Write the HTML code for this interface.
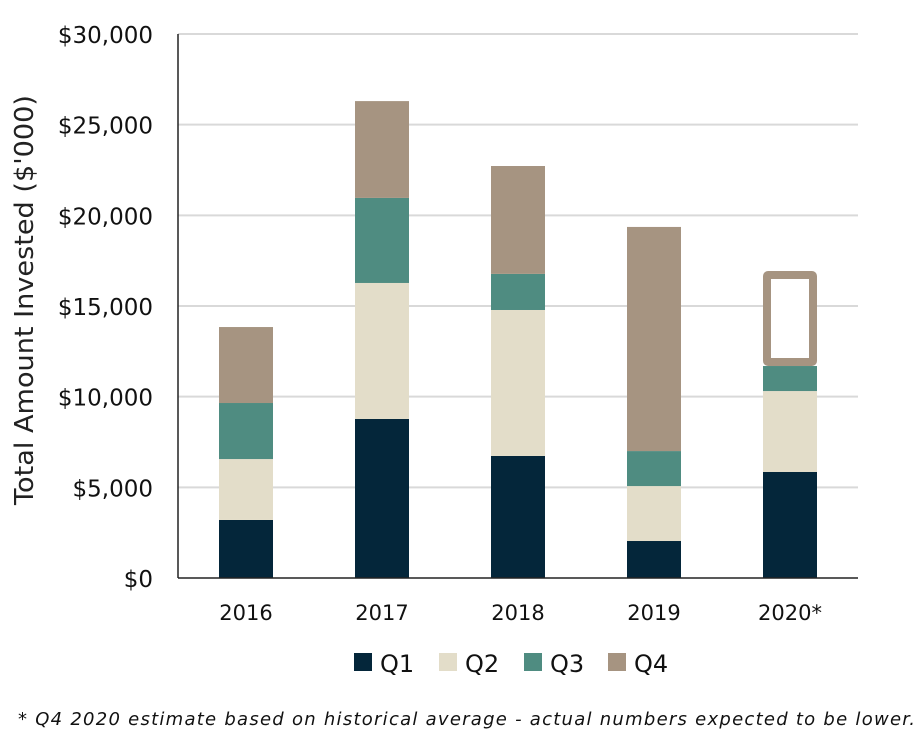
<!DOCTYPE html>
<html><head><meta charset="utf-8"><style>
body{margin:0;background:#fff;}
svg text{font-family:"DejaVu Sans","Liberation Sans",sans-serif;}
</style></head><body>
<svg id="chart" width="924" height="743" viewBox="0 0 924 743" xmlns="http://www.w3.org/2000/svg">
<g id="grid"></g><g id="bars"></g><g id="axes"></g>
<text transform="translate(33,300) rotate(-90)" text-anchor="middle" font-size="26" fill="#222" textLength="410" lengthAdjust="spacingAndGlyphs">Total Amount Invested ($'000)</text>
<g font-size="24" fill="#111">
<rect x="354" y="653" width="18" height="18" fill="#04263a"/>
<text x="380" y="672">Q1</text>
<rect x="439" y="653" width="18" height="18" fill="#e3ddc9"/>
<text x="465" y="672">Q2</text>
<rect x="524" y="653" width="18" height="18" fill="#4f8c81"/>
<text x="550" y="672">Q3</text>
<rect x="608" y="653" width="18" height="18" fill="#a69481"/>
<text x="634" y="672">Q4</text>
</g>
<text x="18" y="725" font-size="18" font-style="italic" fill="#111" textLength="897" lengthAdjust="spacing">* Q4 2020 estimate based on historical average - actual numbers expected to be lower.</text>
</svg>
<script>
const categories=["2016","2017","2018","2019","2020*"];
const q1=[3200,8770,6730,2040,5850];
const q2=[3360,7500,8050,3030,4460];
const q3=[3090,4690,1990,1930,1380];
const q4=[4190,5340,5950,12360,5240];
const yTicks=[0,5000,10000,15000,20000,25000,30000];
const yTickLabels=["$0","$5,000","$10,000","$15,000","$20,000","$25,000","$30,000"];
const colors=["#04263a","#e3ddc9","#4f8c81","#a69481"];
const NS="http://www.w3.org/2000/svg";
const x0=178,x1=858,yBase=578,yTop=34,yMax=30000;
const y=v=>yBase-(v/yMax)*(yBase-yTop);
const step=(x1-x0)/categories.length;
const bw=54;
function mk(tag,attrs,parent){const e=document.createElementNS(NS,tag);for(const k in attrs)e.setAttribute(k,attrs[k]);parent.appendChild(e);return e;}
const grid=document.getElementById('grid'),bars=document.getElementById('bars'),axes=document.getElementById('axes');
yTicks.forEach((t,i)=>{
  if(t>0){const l=mk('line',{x1:x0,x2:x1,y1:y(t),y2:y(t),stroke:'#d9d9d9','stroke-width':2},grid);
  
  }
  const tx=mk('text',{x:153,y:y(t)+9,'text-anchor':'end','font-size':23,fill:'#111'},axes);
  tx.textContent=yTickLabels[i];
  
  
});
const series=[q1,q2,q3,q4];
categories.forEach((c,i)=>{
  const cx=x0+step*(i+0.5);
  let acc=0;
  series.forEach((s,k)=>{
    const v=s[i],top=y(acc+v),bot=y(acc);
    let r;
    if(k===3&&i===categories.length-1){
      r=mk('rect',{x:cx-bw/2+4,y:top+4,width:bw-8,height:bot-top-8,fill:'#fff',stroke:colors[3],'stroke-width':8,rx:1},bars);
      
    }else{
      r=mk('rect',{x:cx-bw/2,y:top,width:bw,height:bot-top,fill:colors[k]},bars);
      
    }
    
    acc+=v;
  });
  const tx=mk('text',{x:cx,y:620,'text-anchor':'middle','font-size':21,fill:'#111'},axes);
  tx.textContent=c;
  
  
});
const ya=mk('line',{x1:x0,x2:x0,y1:yTop,y2:yBase,stroke:'#222','stroke-width':1.5},axes);


const xa=mk('line',{x1:x0,x2:x1,y1:yBase,y2:yBase,stroke:'#222','stroke-width':1.5},axes);


</script>
</body></html>
